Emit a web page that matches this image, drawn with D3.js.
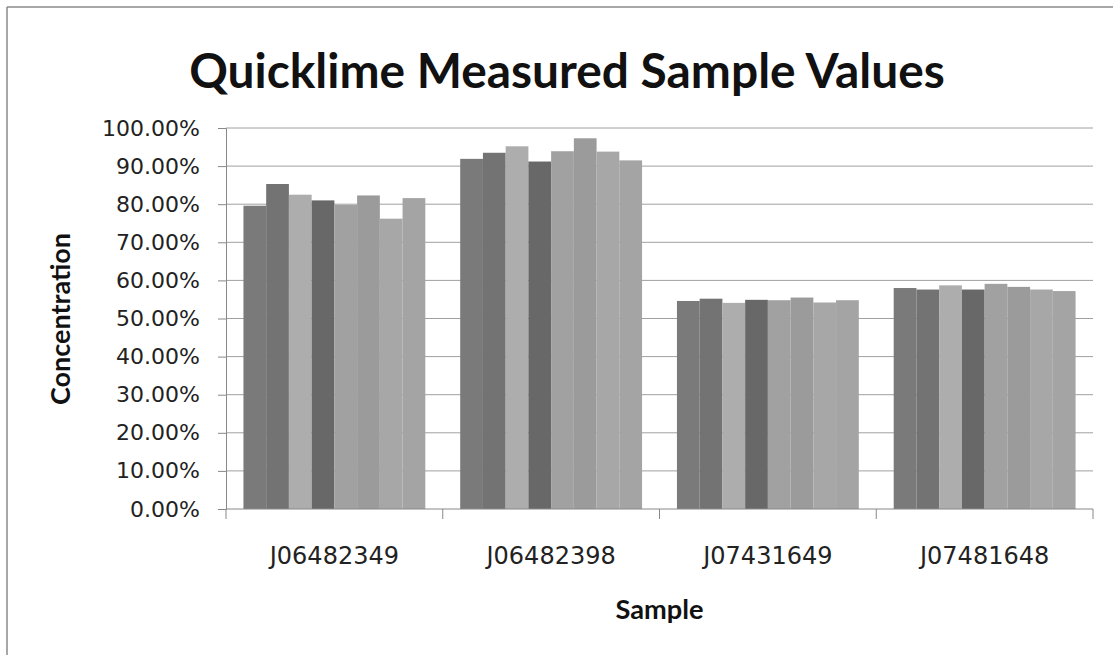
<!DOCTYPE html>
<html>
<head>
<meta charset="utf-8">
<script src="https://cdn.jsdelivr.net/npm/d3@7"></script>
<style>
  body { margin: 0; background: #fff; }
  svg { display: block; }
</style>
</head>
<body>
<svg id="chart" width="1120" height="662"></svg>
<script>
// Sample names along the x axis
var samples = ["J06482349", "J06482398", "J07431649", "J07481648"];

var runNames = ["Run 1", "Run 2", "Run 3", "Run 4", "Run 5", "Run 6", "Run 7", "Run 8"];
var j06482349 = [79.6, 85.3, 82.5, 81.0, 79.8, 82.3, 76.2, 81.6];
var j06482398 = [91.9, 93.5, 95.2, 91.2, 93.9, 97.3, 93.8, 91.5];
var j07431649 = [54.6, 55.2, 54.1, 54.9, 54.8, 55.5, 54.2, 54.8];
var j07481648 = [58.0, 57.6, 58.7, 57.6, 59.1, 58.3, 57.6, 57.2];
var sampleValues = [j06482349, j06482398, j07431649, j07481648];

var yTicks = [0, 10, 20, 30, 40, 50, 60, 70, 80, 90, 100];
var runColors = ["#7a7a7a", "#737373", "#adadad", "#686868", "#a1a1a1", "#9b9b9b", "#a7a7a7", "#a4a4a4"];

var svg = d3.select("#chart");
var plot = { left: 226, right: 1093, top: 128, bottom: 509 };

// frame of the chart (only top and left edges show in the scan)
svg.append("line").attr("x1", 7).attr("y1", 7).attr("x2", 1113).attr("y2", 7)
  .attr("stroke", "#8a8a8a").attr("stroke-width", 1.5);
svg.append("line").attr("x1", 7).attr("y1", 7).attr("x2", 7).attr("y2", 655)
  .attr("stroke", "#8a8a8a").attr("stroke-width", 1.5);

var y = d3.scaleLinear().domain([0, 100]).range([plot.bottom, plot.top]);
var x = d3.scaleBand().domain(samples).range([plot.left, plot.right])
  .paddingInner(0.161).paddingOuter(0.0805);
var xRun = d3.scaleBand().domain(runNames).range([0, x.bandwidth()]);

// gridlines
svg.append("g").selectAll("line")
  .data(yTicks.filter(d => d > 0))
  .join("line")
  .attr("x1", plot.left).attr("x2", plot.right)
  .attr("y1", d => y(d)).attr("y2", d => y(d))
  .attr("stroke", "#a0a0a0").attr("stroke-width", 1);

// bars
var groups = svg.append("g").selectAll("g")
  .data(samples)
  .join("g")
  .attr("transform", d => `translate(${x(d)},0)`);

groups.selectAll("rect")
  .data((d, i) => sampleValues[i].map((v, j) => ({ run: runNames[j], value: v, color: runColors[j] })))
  .join("rect")
  .attr("x", d => xRun(d.run))
  .attr("width", xRun.bandwidth())
  .attr("y", d => y(d.value))
  .attr("height", d => y(0) - y(d.value))
  .attr("fill", d => d.color);

// y axis
var yAxis = svg.append("g")
  .attr("transform", `translate(${plot.left},0)`)
  .call(d3.axisLeft(y).tickValues(yTicks).tickSize(8).tickPadding(18)
    .tickFormat(d => d.toFixed(2) + "%"));
yAxis.select(".domain").attr("stroke", "#888");
yAxis.selectAll(".tick line").attr("stroke", "#888");
yAxis.selectAll("text")
  .attr("font-family", "DejaVu Sans").attr("font-size", 22).attr("fill", "#222");

// x axis line, ticks between categories and labels
svg.append("line").attr("x1", plot.left).attr("x2", plot.right)
  .attr("y1", plot.bottom).attr("y2", plot.bottom).attr("stroke", "#888");
var step = x.step();
var bounds = d3.range(samples.length + 1).map(i => plot.left + i * step);
svg.append("g").selectAll("line")
  .data(bounds)
  .join("line")
  .attr("x1", d => d).attr("x2", d => d)
  .attr("y1", plot.bottom).attr("y2", plot.bottom + 10)
  .attr("stroke", "#888");
svg.append("g").selectAll("text")
  .data(samples)
  .join("text")
  .attr("x", d => x(d) + x.bandwidth() / 2)
  .attr("y", 564)
  .attr("text-anchor", "middle")
  .attr("font-family", "DejaVu Sans").attr("font-size", 24).attr("fill", "#222")
  .text(d => d);

// scale a text's font so it spans a given width
function fitText(sel, width) {
  var size = +sel.attr("font-size");
  var w = sel.node().getComputedTextLength();
  sel.attr("font-size", size * width / w);
}

var title = svg.append("text")
  .attr("x", 567).attr("y", 88)
  .attr("text-anchor", "middle")
  .attr("font-family", "Lato").attr("font-weight", "bold").attr("font-size", 44)
  .attr("fill", "#111")
  .text("Quicklime Measured Sample Values");
fitText(title, 756);

var xTitle = svg.append("text")
  .attr("x", (plot.left + plot.right) / 2).attr("y", 619)
  .attr("text-anchor", "middle")
  .attr("font-family", "Lato").attr("font-weight", "bold").attr("font-size", 20)
  .attr("fill", "#111")
  .text("Sample");
fitText(xTitle, 88);

var yTitle = svg.append("text")
  .attr("transform", "translate(70,319) rotate(-90)")
  .attr("text-anchor", "middle")
  .attr("font-family", "Lato").attr("font-weight", "bold").attr("font-size", 20)
  .attr("fill", "#111")
  .text("Concentration");
fitText(yTitle, 172);
</script>
</body>
</html>
